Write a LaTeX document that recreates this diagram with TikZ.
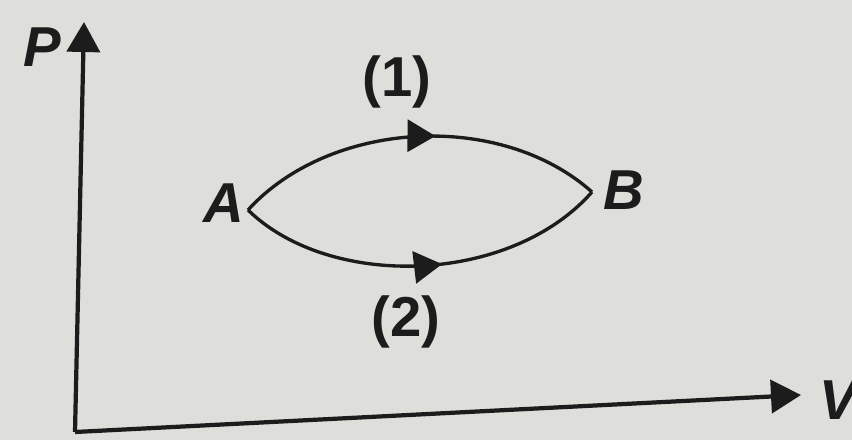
\documentclass[tikz,border=0pt]{standalone}
\usepackage{fontspec}
\setmainfont{Liberation Sans}
\usetikzlibrary{arrows.meta,decorations.markings}

\definecolor{paper}{RGB}{222,222,219}
\definecolor{ink}{RGB}{28,28,28}

\begin{document}
\begin{tikzpicture}[
  x=0.01cm, y=-0.01cm,
  axis/.style={draw=ink, line width=1.2pt, -{Triangle[length=3mm,width=3.3mm]}},
  proc/.style={draw=ink, line width=0.95pt, postaction={decorate},
    decoration={markings, mark=at position 0.55 with {\arrow{Triangle[length=2.8mm,width=3.2mm]}}}},
  lbl/.style={text=ink, inner sep=0pt, font=\fontsize{16}{18}\selectfont\bfseries\itshape},
  num/.style={text=ink, inner sep=0pt, font=\fontsize{16}{18}\selectfont\bfseries}
]

% paper
\fill[paper] (0,0) rectangle (852,440);
\useasboundingbox (0,0) rectangle (852,440);

% axes
\coordinate (O) at (75,432);
\coordinate (Ptip) at (84,22);
\coordinate (Vtip) at (801,395);
\draw[axis] (O) -- (Ptip);
\draw[axis] (O) -- (Vtip);
\node[lbl] (Plbl) at (42,47) {P};
\node[lbl] (Vlbl) at (838,400) {V};

% states
\coordinate (A) at (248,210);
\coordinate (B) at (592,192);
\node[lbl] (Albl) at (224,203) {A};
\node[lbl] (Blbl) at (624,190) {B};

% two processes
\draw[proc] (A) .. controls (330,120) and (500,110) .. (B);
\draw[proc] (A) .. controls (330,290) and (510,285) .. (B);
\node[num] (one) at (397,82) {(1)};
\node[num] (two) at (406,322) {(2)};

\end{tikzpicture}
\end{document}
